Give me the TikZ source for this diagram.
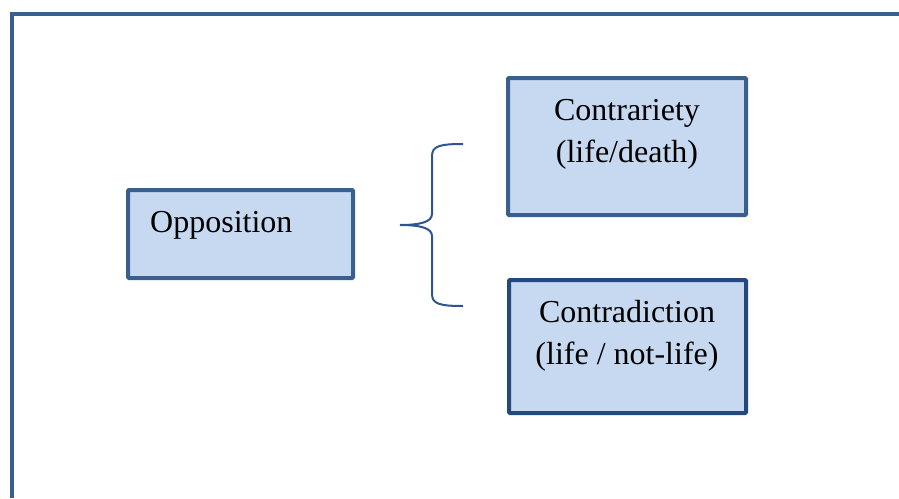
\documentclass[tikz,border=0pt]{standalone}
\usepackage{fontspec}
\setmainfont{Liberation Serif}
\usetikzlibrary{positioning}
\definecolor{frameblue}{HTML}{3A5F8D}
\definecolor{darkblue}{HTML}{24497C}
\definecolor{boxfill}{HTML}{C6D9F1}
\definecolor{braceblue}{HTML}{2E5592}
\begin{document}
\begin{tikzpicture}[x=1pt,y=-1pt,
		box/.style = {draw=frameblue,fill=boxfill,line width=4pt,rounded corners=1pt,inner sep=0pt},txt/.style = {font=\fontsize{32}{42}\selectfont,align=center,inner sep=0pt}
		]
		\useasboundingbox (0,0) rectangle (899,498);
		%CORNICE
		\draw[frameblue,line width=4pt] (12,498) -- (12,14) -- (899,14);
		%RIQUADRI
		\node[box,minimum width=225pt,minimum height=88pt] (opp) at (240.5,234) {};
		\node[box,minimum width=238pt,minimum height=137pt] (contrar) at (627,146.5) {};
		\node[box,draw=darkblue,minimum width=237pt,minimum height=133pt] (contrad) at (627.5,346.5) {};
		%TESTI
		\node[txt,anchor=base west] (opptxt) at (150,232) {Opposition};
		\node[txt,anchor=base] (contrartxt) at (627,162) {Contrariety\\(life/death)};
		\node[txt,anchor=base] (contradtxt) at (627,364) {Contradiction\\(life / not-life)};
		%PARENTESI
		\draw[braceblue,line width=2pt] (463,144) .. controls (440,144) and (432,146) .. (432,156) -- (432,214) .. controls (432,222) and (420,225) .. (400,225) .. controls (420,225) and (432,228) .. (432,236) -- (432,294) .. controls (432,304) and (440,306) .. (463,306);
	\end{tikzpicture}
\end{document}
